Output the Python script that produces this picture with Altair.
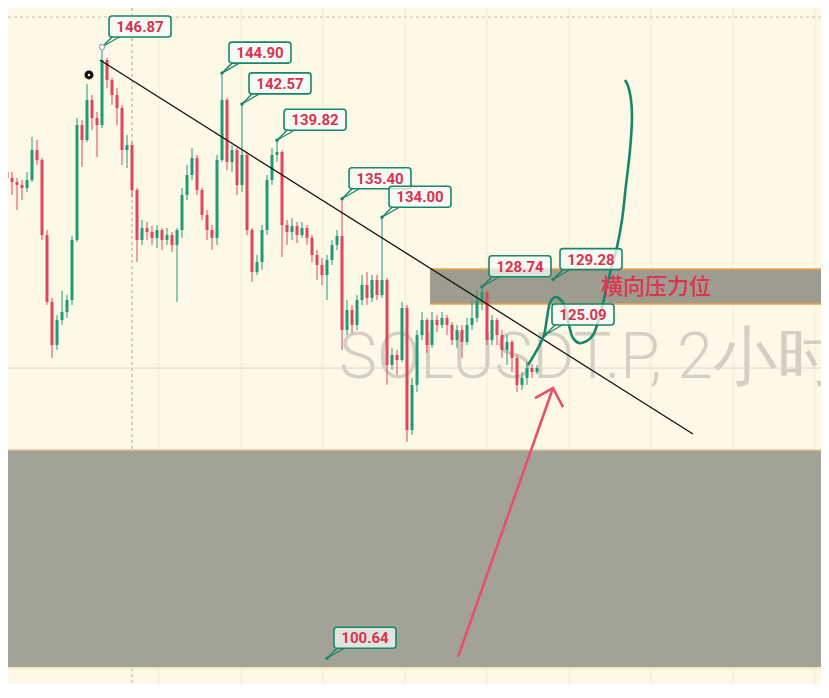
import altair as alt
import pandas as pd

# ---------------- data ----------------
OPEN_FIRST = 137.19
CLOSE = [137.42, 136.97, 136.66, 136.44, 136.21, 136.81, 139.08, 138.33, 132.65, 127.59,
         124.33, 126.22, 126.83, 127.74, 132.28, 140.97, 139.84, 142.87, 141.50, 140.97,
         145.89, 144.38, 143.24, 142.26, 139.08, 139.46, 136.06, 132.28, 133.18, 132.88,
         132.43, 133.03, 132.28, 132.65, 131.90, 133.03, 135.68, 137.19, 138.48, 136.06,
         134.17, 133.03, 132.43, 138.33, 142.87, 138.18, 139.08, 136.44, 138.71, 133.03,
         129.85, 130.61, 133.03, 136.81, 138.71, 138.93, 133.41, 132.88, 133.34, 132.65,
         133.18, 132.43, 131.14, 130.39, 129.63, 130.76, 131.90, 132.58, 125.47, 126.98,
         125.85, 127.74, 128.87, 127.89, 129.25, 128.12, 129.25, 122.82, 123.58, 123.20,
         127.13, 117.90, 121.31, 125.09, 126.22, 124.33, 126.22, 125.85, 126.38, 125.85,
         124.71, 125.47, 124.56, 125.85, 126.38, 127.74, 128.34, 124.71, 126.22, 125.09,
         123.96, 124.56, 123.35, 121.31, 121.84, 122.59, 122.29, 122.59]
HIGH = [137.95, 137.57, 137.42, 136.97, 136.81, 137.42, 140.07, 139.84, 138.48, 133.03,
        127.89, 126.60, 128.42, 128.12, 132.58, 141.50, 141.35, 144.08, 143.24, 141.96,
        146.87, 146.04, 144.53, 143.77, 142.49, 140.22, 139.69, 136.21, 133.79, 133.64,
        133.34, 133.41, 133.18, 133.18, 132.88, 133.18, 136.21, 137.95, 139.23, 138.71,
        136.21, 134.55, 133.41, 138.71, 144.90, 143.02, 139.46, 139.23, 142.57, 138.93,
        133.18, 131.14, 133.41, 137.19, 139.23, 139.82, 139.08, 133.79, 133.94, 133.64,
        133.64, 133.41, 132.65, 131.52, 130.91, 131.14, 132.28, 133.03, 135.40, 127.74,
        127.36, 128.12, 129.63, 129.85, 129.63, 129.63, 134.00, 129.40, 124.11, 123.96,
        127.59, 127.36, 121.84, 125.47, 126.83, 126.38, 126.83, 126.60, 126.83, 126.60,
        126.07, 125.85, 125.85, 126.38, 127.74, 128.49, 128.74, 128.49, 126.60, 126.38,
        125.47, 125.09, 124.71, 123.58, 122.29, 123.05, 122.90, 122.82]
LOW = [136.81, 136.44, 135.68, 134.55, 135.30, 135.91, 136.66, 137.95, 132.28, 127.36,
       123.35, 123.96, 125.85, 126.38, 127.36, 132.12, 137.80, 139.69, 140.60, 138.55,
       140.75, 143.77, 142.49, 140.97, 137.95, 137.72, 135.53, 130.61, 131.90, 132.28,
       131.90, 131.67, 131.52, 131.90, 131.37, 127.59, 132.43, 135.30, 136.81, 135.68,
       133.79, 132.28, 131.52, 131.90, 138.18, 137.57, 137.42, 135.68, 135.91, 132.65,
       129.10, 129.63, 130.01, 132.65, 136.44, 138.18, 130.99, 131.90, 132.28, 132.05,
       132.43, 131.90, 130.61, 129.25, 128.87, 127.74, 130.39, 131.52, 123.96, 125.09,
       125.24, 125.47, 127.36, 127.36, 127.59, 127.74, 127.89, 121.31, 122.44, 122.06,
       123.05, 117.00, 117.53, 120.78, 124.71, 123.73, 124.11, 125.32, 125.62, 125.09,
       124.33, 124.11, 123.35, 124.33, 125.47, 126.07, 126.98, 124.33, 124.33, 124.33,
       123.35, 122.82, 122.29, 120.78, 120.93, 121.31, 121.84, 122.14]

LABEL_BAR = [20, 44, 48, 55, 68, 76, 96, 110.2, 108.6, 65]
LABEL_PRICE = [146.87, 144.90, 142.57, 139.82, 135.40, 134.00, 128.74, 129.28, 125.09, 100.64]

TREND_BAR = [19.6, 138.2]
TREND_PRICE = [145.89, 117.60]

CURVE_BAR = [105.2, 107.0, 108.4, 109.0, 109.6, 110.6, 111.8, 112.8, 113.4, 114.2, 115.4,
             117.0, 118.2, 119.2, 120.2, 121.6, 123.0, 124.0, 124.8, 125.6, 126.0, 125.8,
             125.2, 124.6]
CURVE_PRICE = [122.82, 123.96, 125.09, 126.38, 127.51, 127.96, 127.74, 126.98, 125.85, 124.86,
               124.48, 124.64, 125.09, 126.07, 127.51, 129.78, 131.75, 133.79, 136.44, 139.08,
               141.50, 142.87, 143.93, 144.38]

ARROW_PART = ["shaft", "shaft", "head", "head", "head"]
ARROW_BAR = [91.2, 110.2, 106.6, 110.2, 112.2]
ARROW_PRICE = [100.73, 121.08, 120.32, 121.08, 119.64]

SUPPORT_ZONE = [99.90, 116.39]
RESIST_ZONE = [127.43, 130.08]
RESIST_START_BAR = 85.6

GRID_BARS = [31.4, 47.8, 64.2, 80.6, 97.0, 113.4, 129.8, 146.2, 162.6]
CROSS_BAR = 26.0
CROSS_PRICE = 149.14
LAST_PRICE = 122.59

ZONE_TEXT = "横向压力位"
ZONE_TEXT_POS = [130.8, 128.72]
WATERMARK = "SOLUSDT.P, 2小时"
WATERMARK_POS = [67.4, 121.84]
ALARM_POS = [17.4, 144.76]

# ---------------- style ----------------
BG = "#fdf9e6"
GREEN = "#1f9a76"
RED = "#e0455e"
TEAL = "#17866a"
LABEL_RED = "#d63452"

XS = alt.Scale(domain=[1.2, 163.8], nice=False, zero=False)
YS = alt.Scale(domain=[98.69, 149.825], nice=False, zero=False)


def X(f="bar"):
    return alt.X(f"{f}:Q", scale=XS, axis=None)


def Y(f="price"):
    return alt.Y(f"{f}:Q", scale=YS, axis=None)


opens = [OPEN_FIRST] + CLOSE[:-1]
candles = pd.DataFrame({"bar": list(range(len(CLOSE))), "open": opens, "close": CLOSE,
                        "high": HIGH, "low": LOW})
candles["dir"] = ["up" if c >= o else "down" for o, c in zip(candles["open"], candles["close"])]
dir_color = alt.Color("dir:N", scale=alt.Scale(domain=["up", "down"], range=[GREEN, RED]), legend=None)

# grid & crosshair
grid_df = pd.DataFrame({"bar": GRID_BARS})
grid = alt.Chart(grid_df).mark_rule(color="#f1ecd9", strokeWidth=1).encode(x=X())
cross_v = alt.Chart(pd.DataFrame({"bar": [CROSS_BAR]})).mark_rule(
    color="#a8a69c", strokeWidth=1, strokeDash=[3, 3]).encode(x=X())
cross_h = alt.Chart(pd.DataFrame({"price": [CROSS_PRICE]})).mark_rule(
    color="#c2c0b4", strokeWidth=1, strokeDash=[3, 3]).encode(y=Y())

# zones
support_df = pd.DataFrame({"bar": [-20], "bar2": [200], "price": [SUPPORT_ZONE[0]], "price2": [SUPPORT_ZONE[1]]})
support = alt.Chart(support_df).mark_rect(color="#a3a296", clip=True).encode(
    x=X(), x2="bar2:Q", y=Y(), y2="price2:Q")
support_top = alt.Chart(pd.DataFrame({"price": [SUPPORT_ZONE[1]]})).mark_rule(
    color="#d6c89e", strokeWidth=1.5).encode(y=Y())
support_bot = alt.Chart(pd.DataFrame({"price": [SUPPORT_ZONE[0]]})).mark_rule(
    color="#f1ecbc", strokeWidth=2).encode(y=Y())

resist_df = pd.DataFrame({"bar": [RESIST_START_BAR], "bar2": [200], "price": [RESIST_ZONE[0]],
                          "price2": [RESIST_ZONE[1]]})
resist = alt.Chart(resist_df).mark_rect(color="#9d9c8f", clip=True).encode(
    x=X(), x2="bar2:Q", y=Y(), y2="price2:Q")
resist_lines_df = pd.DataFrame({"bar": [RESIST_START_BAR] * 2, "bar2": [200] * 2, "price": RESIST_ZONE})
resist_lines = alt.Chart(resist_lines_df).mark_rule(color="#f2a33a", strokeWidth=1.5, clip=True).encode(
    x=X(), x2="bar2:Q", y=Y())

# watermark
wm = alt.Chart(pd.DataFrame({"bar": [WATERMARK_POS[0]], "price": [WATERMARK_POS[1]], "t": [WATERMARK]})).mark_text(
    align="left", baseline="alphabetic", fontSize=64, font="Roboto", fontWeight=300,
    color="#c9c6bb", opacity=0.8, clip=True).encode(x=X(), y=Y(), text="t:N")

# last price line
last_line = alt.Chart(pd.DataFrame({"price": [LAST_PRICE]})).mark_rule(
    color="#e2d3cc", strokeWidth=1).encode(y=Y())

# candles
wicks = alt.Chart(candles).mark_rule(strokeWidth=1, clip=True).encode(
    x=X(), y=Y("low"), y2="high:Q", color=dir_color)
bodies = alt.Chart(candles).mark_rule(strokeWidth=3, clip=True).encode(
    x=X(), y=Y("open"), y2="close:Q", color=dir_color)

# trend line
trend = alt.Chart(pd.DataFrame({"bar": TREND_BAR, "price": TREND_PRICE})).mark_line(
    color="#111111", strokeWidth=1.3).encode(x=X(), y=Y())

# green projection curve
curve_df = pd.DataFrame({"bar": CURVE_BAR, "price": CURVE_PRICE, "seq": list(range(len(CURVE_BAR)))})
curve = alt.Chart(curve_df).mark_line(color=TEAL, strokeWidth=2.6, interpolate="catmull-rom").encode(
    x=X(), y=Y(), order="seq:Q")

# red arrow
arrow_df = pd.DataFrame({"bar": ARROW_BAR, "price": ARROW_PRICE, "part": ARROW_PART,
                         "seq": list(range(len(ARROW_BAR)))})
arrow = alt.Chart(arrow_df).mark_line(color="#e5516a", strokeWidth=2.6).encode(
    x=X(), y=Y(), detail="part:N", order="seq:Q")

# alarm icon
alarm = alt.Chart(pd.DataFrame({"bar": [ALARM_POS[0]], "price": [ALARM_POS[1]]})).mark_point(
    filled=True, color="#111111", size=80, opacity=1).encode(x=X(), y=Y())
alarm_dot = alt.Chart(pd.DataFrame({"bar": [ALARM_POS[0]], "price": [ALARM_POS[1]]})).mark_point(
    filled=True, color="#ffffff", size=6, opacity=1).encode(x=X(), y=Y())

# price callouts
lab_df = pd.DataFrame({"bar": LABEL_BAR, "price": LABEL_PRICE,
                       "t": [f"{p:.2f}" for p in LABEL_PRICE]})
tail1 = alt.Chart(lab_df).mark_rule(color=TEAL, strokeWidth=1.5, x2Offset=11, y2Offset=-11).encode(
    x=X(), x2="bar:Q", y=Y(), y2="price:Q")
tail2 = alt.Chart(lab_df).mark_rule(color=TEAL, strokeWidth=1.2, x2Offset=19, y2Offset=-11).encode(
    x=X(), x2="bar:Q", y=Y(), y2="price:Q")
box = alt.Chart(lab_df).mark_rect(
    xOffset=7, x2Offset=69, yOffset=-10, y2Offset=-31, cornerRadius=3,
    fill="#f5fbf8", fillOpacity=0.75, stroke=TEAL, strokeWidth=1.6).encode(
    x=X(), x2="bar:Q", y=Y(), y2="price:Q")
anchor = alt.Chart(lab_df).mark_circle(color=TEAL, size=12, opacity=1).encode(x=X(), y=Y())
lab_text = alt.Chart(lab_df).mark_text(
    dx=38, dy=-20, align="center", baseline="middle", font="Roboto", fontSize=15,
    fontWeight="bold", color=LABEL_RED).encode(x=X(), y=Y(), text="t:N")
top_marker = alt.Chart(lab_df.iloc[[0]]).mark_point(
    shape="circle", size=28, color="#8fa6c9", fill="#ffffff", filled=False, strokeWidth=1.2, opacity=1).encode(
    x=X(), y=Y())

zone_text = alt.Chart(pd.DataFrame({"bar": [ZONE_TEXT_POS[0]], "price": [ZONE_TEXT_POS[1]], "t": [ZONE_TEXT]})).mark_text(
    align="center", baseline="middle", fontSize=22, font="Noto Sans CJK SC", fontWeight=500,
    color="#e0334f").encode(x=X(), y=Y(), text="t:N")

chart = alt.layer(
    grid, cross_v, cross_h, support, support_top, support_bot, resist, resist_lines,
    wm, last_line, wicks, bodies, trend, curve, arrow, alarm, alarm_dot,
    tail1, tail2, box, anchor, lab_text, top_marker, zone_text,
).properties(
    width=813, height=676, autosize="none", padding=0, background=BG,
).configure_view(stroke=None)

chart.save("out.html", embed_options={"renderer": "svg", "actions": False})
